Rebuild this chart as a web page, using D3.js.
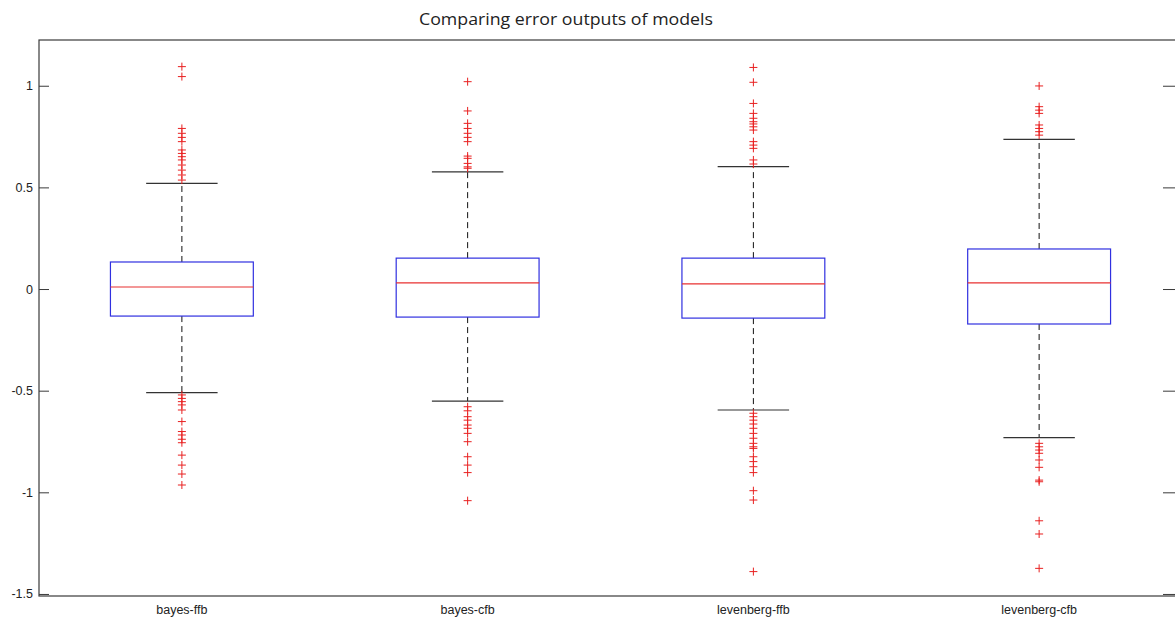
<!DOCTYPE html>
<html>
<head>
<meta charset="utf-8">
<script src="https://cdn.jsdelivr.net/npm/d3@7"></script>
<style>
  html, body { margin: 0; padding: 0; background: #fff; overflow: hidden; }
  svg { display: block; }
</style>
</head>
<body>
<svg id="chart" width="1175" height="620"></svg>
<script>
const title = "Comparing error outputs of models";
const categories = ["bayes-ffb", "bayes-cfb", "levenberg-ffb", "levenberg-cfb"];
const q1 = [-0.133, -0.138, -0.143, -0.172];
const medians = [0.01, 0.03, 0.025, 0.03];
const q3 = [0.133, 0.152, 0.152, 0.197];
const whiskerLow = [-0.51, -0.551, -0.595, -0.731];
const whiskerHigh = [0.52, 0.576, 0.602, 0.736];
const outliersBayesFfb = [1.094, 1.045, 0.79, 0.766, 0.746, 0.725, 0.684, 0.667, 0.651, 0.635, 0.61, 0.585, 0.561, 0.536,
  -0.521, -0.538, -0.554, -0.570, -0.595, -0.652, -0.701, -0.718, -0.739, -0.756, -0.817, -0.866, -0.91, -0.964];
const outliersBayesCfb = [1.02, 0.876, 0.815, 0.79, 0.766, 0.746, 0.725, 0.654, 0.643, 0.618, 0.601, 0.594,
  -0.579, -0.599, -0.628, -0.645, -0.669, -0.685, -0.71, -0.751, -0.825, -0.866, -0.903, -1.041];
const outliersLevenbergFfb = [1.09, 1.017, 0.913, 0.864, 0.84, 0.823, 0.812, 0.798, 0.782, 0.725, 0.708, 0.692, 0.635, 0.615,
  -0.611, -0.628, -0.645, -0.664, -0.685, -0.71, -0.734, -0.759, -0.776, -0.784, -0.825, -0.849, -0.874, -0.903, -0.992, -1.038, -1.39];
const outliersLevenbergCfb = [0.999, 0.897, 0.88, 0.864, 0.807, 0.79, 0.774, 0.757,
  -0.759, -0.776, -0.792, -0.808, -0.841, -0.877, -0.94, -0.948, -1.14, -1.205, -1.374];
const outliers = [outliersBayesFfb, outliersBayesCfb, outliersLevenbergFfb, outliersLevenbergCfb];
const yTicks = [-1.5, -1, -0.5, 0, 0.5, 1];
const yTickLabels = ["-1.5", "-1", "-0.5", "0", "0.5", "1"];

const svg = d3.select("#chart");
const mLeft = 39, mRight = 1182, mTop = 40, mBottom = 596;

const x = d3.scaleLinear().domain([0.5, categories.length + 0.5]).range([mLeft, mRight]);
const y = d3.scaleLinear().domain([-1.51, 1.225]).range([mBottom, mTop]);

const boxHalf = 0.25, capHalf = 0.125;

// frame
svg.append("rect")
  .attr("x", mLeft).attr("y", mTop)
  .attr("width", mRight - mLeft).attr("height", mBottom - mTop)
  .attr("fill", "none").attr("stroke", "#3a3a3a").attr("stroke-width", 1.2);

// left axis
const yAxisL = d3.axisLeft(y).tickValues(yTicks).tickFormat((d, i) => yTickLabels[i]).tickSizeInner(-10).tickSizeOuter(0).tickPadding(6);
const gL = svg.append("g").attr("transform", `translate(${mLeft},0)`).call(yAxisL);
gL.select(".domain").remove();
gL.selectAll("line").attr("stroke", "#3a3a3a");
gL.selectAll("text").attr("font-family", "Liberation Sans, Arial, sans-serif").attr("font-size", 12.5).attr("fill", "#222");

// right axis
const yAxisR = d3.axisRight(y).tickValues(yTicks).tickFormat("").tickSizeInner(-19).tickSizeOuter(0);
const gR = svg.append("g").attr("transform", `translate(${mRight},0)`).call(yAxisR);
gR.select(".domain").remove();
gR.selectAll("line").attr("stroke", "#3a3a3a");

// x labels
svg.append("g").selectAll("text").data(categories).join("text")
  .attr("x", (d, i) => x(i + 1)).attr("y", 614)
  .attr("text-anchor", "middle")
  .attr("font-family", "Liberation Sans, Arial, sans-serif").attr("font-size", 12.5).attr("fill", "#222")
  .text(d => d);

// title
svg.append("text")
  .attr("x", 566).attr("y", 25)
  .attr("text-anchor", "middle")
  .attr("font-family", "Open Sans, Lato, sans-serif").attr("font-size", 17).attr("fill", "#222")
  .attr("textLength", 294).attr("lengthAdjust", "spacingAndGlyphs")
  .text(title);

const g = svg.append("g");
categories.forEach((c, i) => {
  const p = i + 1;
  g.append("line").attr("x1", x(p)).attr("x2", x(p)).attr("y1", y(q3[i])).attr("y2", y(whiskerHigh[i]))
    .attr("stroke", "#111").attr("stroke-dasharray", "6,4");
  g.append("line").attr("x1", x(p)).attr("x2", x(p)).attr("y1", y(q1[i])).attr("y2", y(whiskerLow[i]))
    .attr("stroke", "#111").attr("stroke-dasharray", "6,4");
  [whiskerHigh[i], whiskerLow[i]].forEach(v => {
    g.append("line").attr("x1", x(p - capHalf)).attr("x2", x(p + capHalf)).attr("y1", y(v)).attr("y2", y(v))
      .attr("stroke", "#333").attr("stroke-width", 1.2);
  });
  g.append("rect").attr("x", x(p - boxHalf)).attr("y", y(q3[i]))
    .attr("width", x(p + boxHalf) - x(p - boxHalf)).attr("height", y(q1[i]) - y(q3[i]))
    .attr("fill", "none").attr("stroke", "#3030e0").attr("stroke-width", 1.2);
  g.append("line").attr("x1", x(p - boxHalf)).attr("x2", x(p + boxHalf)).attr("y1", y(medians[i])).attr("y2", y(medians[i]))
    .attr("stroke", "#e83030").attr("stroke-width", 1.2);
  g.append("g").selectAll("path").data(outliers[i]).join("path")
    .attr("d", v => `M${x(p) - 4},${y(v)}h8M${x(p)},${y(v) - 4}v8`)
    .attr("stroke", "#e82020").attr("stroke-width", 1).attr("fill", "none");
});
</script>
</body>
</html>
